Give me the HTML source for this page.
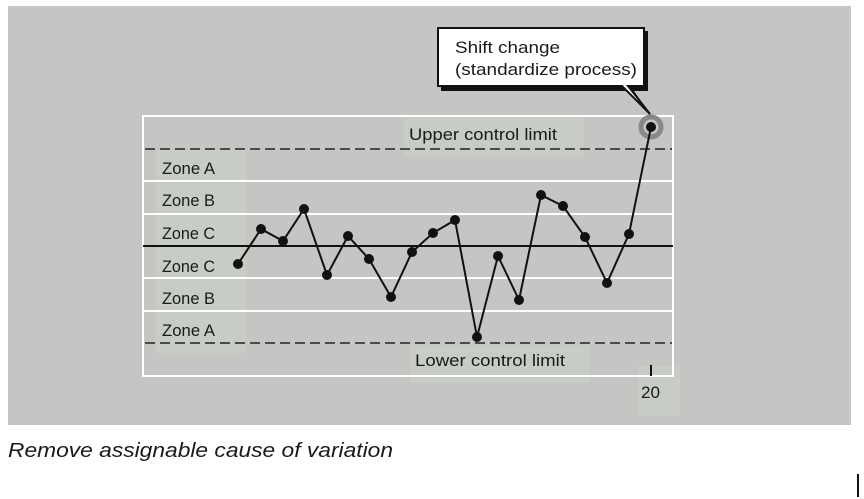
<!DOCTYPE html>
<html><head><meta charset="utf-8"><style>
html,body{margin:0;padding:0;background:#fff;width:864px;height:499px;overflow:hidden}
svg{display:block}
text{font-family:"Liberation Sans",Arial,sans-serif;fill:#1a1a1a}
</style></head><body>
<svg width="864" height="499" viewBox="0 0 864 499">
<rect x="8" y="6" width="843" height="419" fill="#c5c6c3"/>
<g fill="#c7cdc4">
<rect x="156" y="150" width="90" height="203"/>
<rect x="404" y="118" width="180" height="38"/>
<rect x="410" y="345" width="180" height="38"/>
<rect x="638" y="366" width="42" height="50"/>
</g>
<rect x="143" y="116" width="530" height="260" fill="none" stroke="#fff" stroke-width="2"/>
<g stroke="#fff" stroke-width="2">
<line x1="143" y1="181" x2="673" y2="181"/>
<line x1="143" y1="214" x2="673" y2="214"/>
<line x1="143" y1="278" x2="673" y2="278"/>
<line x1="143" y1="311" x2="673" y2="311"/>
</g>
<g stroke="#222" stroke-width="1.4" stroke-dasharray="10,5">
<line x1="145" y1="149" x2="672" y2="149"/>
<line x1="145" y1="343" x2="672" y2="343"/>
</g>
<line x1="143" y1="246" x2="673" y2="246" stroke="#111" stroke-width="2"/>
<g font-size="17">
<text x="162" y="174" textLength="53" lengthAdjust="spacingAndGlyphs">Zone A</text>
<text x="162" y="206" textLength="53" lengthAdjust="spacingAndGlyphs">Zone B</text>
<text x="162" y="239" textLength="53" lengthAdjust="spacingAndGlyphs">Zone C</text>
<text x="162" y="272" textLength="53" lengthAdjust="spacingAndGlyphs">Zone C</text>
<text x="162" y="304" textLength="53" lengthAdjust="spacingAndGlyphs">Zone B</text>
<text x="162" y="336" textLength="53" lengthAdjust="spacingAndGlyphs">Zone A</text>
<text x="409" y="140" textLength="148" lengthAdjust="spacingAndGlyphs">Upper control limit</text>
<text x="415" y="366" textLength="150" lengthAdjust="spacingAndGlyphs">Lower control limit</text>
<text x="641" y="398" textLength="19" lengthAdjust="spacingAndGlyphs">20</text>
</g>
<line x1="651" y1="365" x2="651" y2="376" stroke="#111" stroke-width="2"/>
<circle cx="651" cy="127" r="10" fill="none" stroke="#888" stroke-width="5"/>
<polyline fill="none" stroke="#111" stroke-width="2" points="238,264 261,229 283,241 304,209 327,275 348,236 369,259 391,297 412,252 433,233 455,220 477,337 498,256 519,300 541,195 563,206 585,237 607,283 629,234 651,127"/>
<g fill="#111">
<circle cx="238" cy="264" r="5"/><circle cx="261" cy="229" r="5"/><circle cx="283" cy="241" r="5"/><circle cx="304" cy="209" r="5"/><circle cx="327" cy="275" r="5"/><circle cx="348" cy="236" r="5"/><circle cx="369" cy="259" r="5"/><circle cx="391" cy="297" r="5"/><circle cx="412" cy="252" r="5"/><circle cx="433" cy="233" r="5"/><circle cx="455" cy="220" r="5"/><circle cx="477" cy="337" r="5"/><circle cx="498" cy="256" r="5"/><circle cx="519" cy="300" r="5"/><circle cx="541" cy="195" r="5"/><circle cx="563" cy="206" r="5"/><circle cx="585" cy="237" r="5"/><circle cx="607" cy="283" r="5"/><circle cx="629" cy="234" r="5"/><circle cx="651" cy="127" r="5"/>
</g>
<polygon points="441,31 648,31 648,91 630,91 652,117 634,91 441,91" fill="#111"/>
<polygon points="438,28 644,28 644,86 628,86 650,114 622,86 438,86" fill="#fff" stroke="#111" stroke-width="2"/>
<text x="455" y="53" font-size="17" textLength="105" lengthAdjust="spacingAndGlyphs">Shift change</text>
<text x="455" y="75" font-size="17" textLength="182" lengthAdjust="spacingAndGlyphs">(standardize process)</text>
<text x="8" y="457" font-size="20" font-style="italic" textLength="385" lengthAdjust="spacingAndGlyphs">Remove assignable cause of variation</text>
<rect x="857" y="474" width="2" height="23" fill="#111"/>
</svg>
</body></html>
